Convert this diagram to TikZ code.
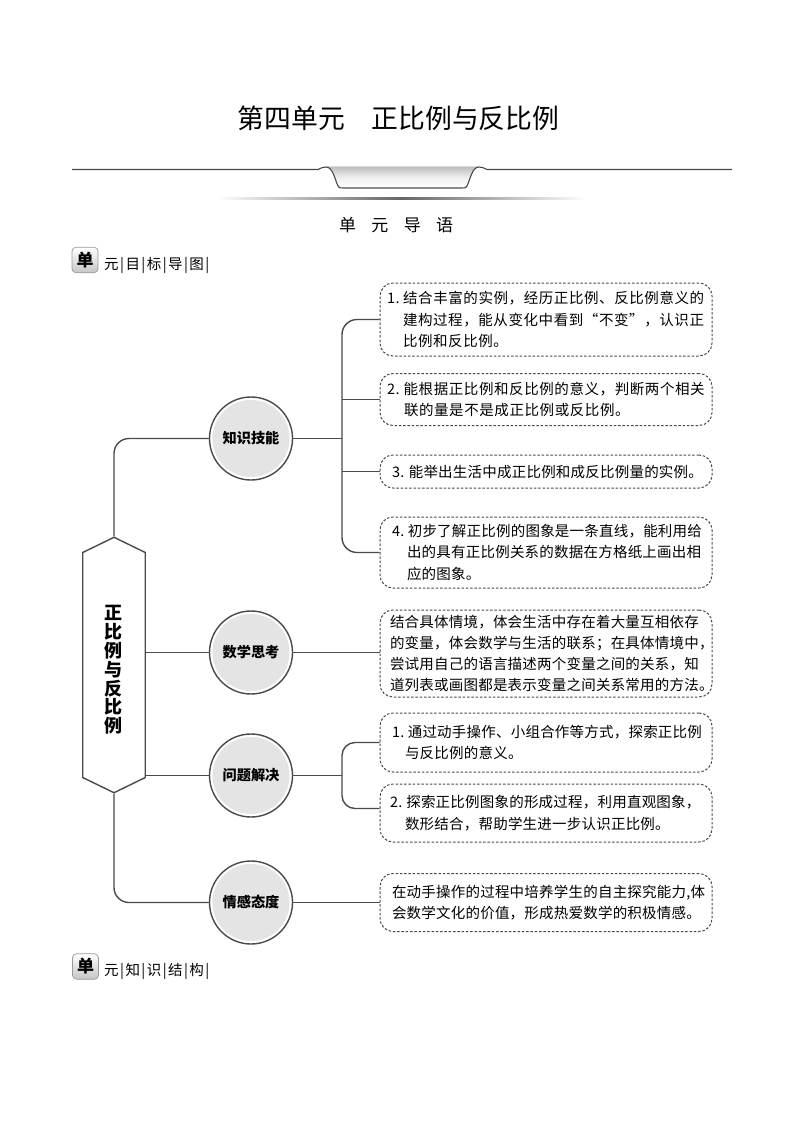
\documentclass[tikz,border=0pt]{standalone}
\usepackage{fontspec}
\usetikzlibrary{shapes.symbols,calc}
\setmainfont{Noto Sans CJK SC}
\newfontfamily\cjkA[LetterSpace=1.5]{Noto Sans CJK SC}
\newfontfamily\cjkB[LetterSpace=4]{Noto Sans CJK SC}
\newfontfamily\cjkC[LetterSpace=10]{Noto Sans CJK SC}
\newfontfamily\cjkD[LetterSpace=90]{Noto Sans CJK SC}
\newcommand{\li}[2]{\hspace*{#1pt}\mbox{#2}}
\definecolor{inkline}{HTML}{4A4A4A}
\definecolor{circfill}{HTML}{E4E4E4}
\tikzset{
  conn/.style={draw=inkline,line width=1.4pt},
  dbox/.style={draw=inkline,dash pattern=on 2.5pt off 1.8pt,line width=1pt,rounded corners=13pt,
    minimum width=332pt,text width=332pt,inner xsep=0pt,inner ysep=0pt,align=left,fill=white,
    font=\cjkA\fontsize{14.5}{21.5}\selectfont},
  dboxb/.style={dbox,font=\cjkB\fontsize{14.5}{21.5}\selectfont},
  topic/.style={circle,draw=inkline,line width=1.4pt,fill=white,minimum size=83pt,inner sep=0pt,
    font=\bfseries\fontsize{14.2}{15}\selectfont,
    path picture={\fill[circfill] (path picture bounding box.center) circle (38.5pt);}},
  badge/.style={draw=gray!80,line width=0.7pt,rounded corners=4pt,top color=white,bottom color=gray!45,
    minimum width=26pt,minimum height=25.5pt,inner sep=0pt,font=\bfseries\fontsize{17}{18}\selectfont},
  blabel/.style={anchor=west,inner sep=0pt,font=\cjkC\fontsize{14.5}{15}\selectfont}
}
\begin{document}
\begin{tikzpicture}[x=1pt,y=-1pt]
\useasboundingbox (0,0) rectangle (794,1123);
% header
\node[inner sep=0pt,font=\fontsize{26.8}{30}\selectfont] (title) at (398.5,118) {第四单元\hspace{26.8pt}正比例与反比例};
\fill[top color=gray!50,bottom color=white,middle color=gray!12]
  (326,167) .. controls (333,167) and (335,180) .. (338,186) .. controls (339,188) and (340,188) .. (343,188)
  -- (462,188) .. controls (465,188) and (466,188) .. (467,186) .. controls (470,180) and (472,167) .. (479,167) -- cycle;
\draw[draw=inkline,line width=1.1pt]
  (72,169.5) -- (318,169.5) .. controls (321,168) and (323,167) .. (326,167)
  .. controls (333,167) and (335,180) .. (338,186) .. controls (339,188) and (340,188) .. (343,188)
  -- (462,188) .. controls (465,188) and (466,188) .. (467,186) .. controls (470,180) and (472,167) .. (479,167)
  .. controls (482,167) and (484,168) .. (487,169.5) -- (732,169.5);
\shade[left color=white,right color=white,middle color=gray!80!black] (216,197.2) rectangle (586,199.2);
\node[anchor=west,inner sep=0pt,font=\cjkD\fontsize{17}{20}\selectfont] (sub) at (339,225) {单元导语};
\node[badge] (b1) at (85,260) {单};
\node[blabel] (b1t) at (104,265) {元|目|标|导|图|};
\node[badge] (b2) at (85.5,966.5) {单};
\node[blabel] (b2t) at (104,971) {元|知|识|结|构|};
% centre
\node[signal,signal to=north and south,signal pointer angle=128,draw=inkline,line width=1.4pt,fill=white,
  minimum width=62.5pt,minimum height=225pt,inner sep=0pt] (hex) at (114,665) {};
\node[inner sep=0pt,align=center,font=\bfseries\fontsize{18}{18.8}\selectfont] (hext) at (113.5,670)
  {正\\比\\例\\与\\反\\比\\例};
% topics
\node[topic] (c1) at (251,438.5) {\raisebox{-1pt}{知识技能}};
\node[topic] (c2) at (251,652.5) {\raisebox{-1pt}{数学思考}};
\node[topic] (c3) at (251,775.5) {\raisebox{-1pt}{问题解决}};
\node[topic] (c4) at (251,902.5) {\raisebox{-1pt}{情感态度}};
% boxes
\node[dboxb,minimum height=73pt] (box1) at (546,319.5)
 {\li{7}{1.}\hspace{3.5pt}\mbox{结合丰富的实例，经历正比例、反比例意义的}\\
  \li{23}{建构过程，能从变化中看到“不变”，认识正}\\
  \li{23}{比例和反比例。}};
\node[dboxb,minimum height=52pt] (box2) at (546,399.5)
 {\li{7}{2.}\hspace{4pt}\mbox{能根据正比例和反比例的意义，判断两个相关}\\
  \li{24}{联的量是不是成正比例或反比例。}};
\node[dbox,minimum height=33pt] (box3) at (546,471.5)
 {\li{12}{3.}\hspace{4.5pt}\mbox{能举出生活中成正比例和成反比例量的实例。}};
\node[dbox,minimum height=71pt] (box4) at (546,552.5)
 {\li{12}{4.}\hspace{3.5pt}\mbox{初步了解正比例的图象是一条直线，能利用给}\\
  \li{27}{出的具有正比例关系的数据在方格纸上画出相}\\
  \li{27}{应的图象。}};
\node[dbox,minimum height=87pt,font=\cjkA\fontsize{14.5}{21}\selectfont] (box5) at (546,653.5)
 {\li{10}{结合具体情境，体会生活中存在着大量互相依存}\\
  \li{10}{的变量，体会数学与生活的联系；在具体情境中，}\\
  \li{10}{尝试用自己的语言描述两个变量之间的关系，知}\\
  \li{10}{道列表或画图都是表示变量之间关系常用的方法。}};
\node[dbox,minimum height=59pt] (box6) at (546,742.5)
 {\li{12}{1.}\hspace{3.5pt}\mbox{通过动手操作、小组合作等方式，探索正比例}\\
  \li{25}{与反比例的意义。}};
\node[dbox,minimum height=58pt] (box7) at (546,813)
 {\li{10}{2.}\hspace{4pt}\mbox{探索正比例图象的形成过程，利用直观图象，}\\
  \li{25}{数形结合，帮助学生进一步认识正比例。}};
\node[dbox,minimum height=58pt] (box8) at (546,902.5)
 {\li{12}{在动手操作的过程中培养学生的自主探究能力,体}\\
  \li{12}{会数学文化的价值，形成热爱数学的积极情感。}};
% connector helpers
\coordinate (bus1) at (342,438.5);
\coordinate (bus3) at (342,775.5);
\coordinate (box7in) at (box7.west |- 0,808.5);
% connectors
\draw[conn,rounded corners=15pt] (hex.north) |- (c1.west);
\draw[conn,rounded corners=15pt] (hex.south) |- (c4.west);
\draw[conn] (c2.west -| hex.east) -- (c2.west);
\draw[conn] (c3.west -| hex.east) -- (c3.west);
\draw[conn] (c1.east) -- (bus1);
\draw[conn,rounded corners=15pt] (box1.west) -| (bus1) |- (box4.west);
\draw[conn] (box2.west -| bus1) -- (box2.west);
\draw[conn] (box3.west -| bus1) -- (box3.west);
\draw[conn] (c2.east) -- (c2.east -| box5.west);
\draw[conn] (c3.east) -- (bus3);
\draw[conn,rounded corners=13pt] (box6.west) -| (bus3) |- (box7in);
\draw[conn] (c4.east) -- (c4.east -| box8.west);
\end{tikzpicture}
\end{document}
